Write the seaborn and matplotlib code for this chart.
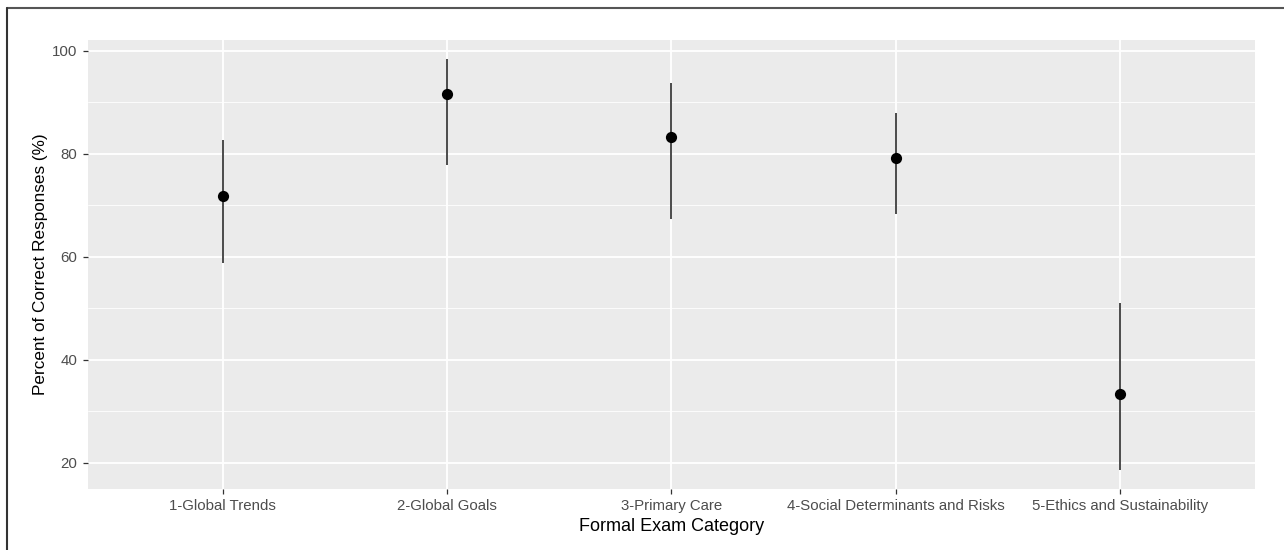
import matplotlib
matplotlib.use("Agg")
import matplotlib.pyplot as plt
import pandas as pd
import seaborn as sns
from matplotlib.lines import Line2D
from matplotlib.ticker import MultipleLocator

categories = ["1-Global Trends", "2-Global Goals", "3-Primary Care",
              "4-Social Determinants and Risks", "5-Ethics and Sustainability"]
pct_correct = [71.8, 91.7, 83.3, 79.2, 33.3]
ci_lower = [58.8, 77.8, 67.4, 68.3, 18.6]
ci_upper = [82.6, 98.4, 93.7, 87.9, 51.0]

df = pd.DataFrame({"category": categories, "pct": pct_correct,
                   "lo": ci_lower, "hi": ci_upper})

sns.set_theme(style="darkgrid", rc={
    "axes.facecolor": "#EBEBEB",
    "grid.color": "white",
})
plt.rcParams["font.family"] = ["Liberation Sans", "DejaVu Sans"]

fig = plt.figure(figsize=(12.84, 5.5), dpi=100)
ax = fig.add_axes([0.0685, 0.1109, 0.9089, 0.8164])

ax.vlines(range(len(df)), df["lo"], df["hi"], color="#1a1a1a", lw=1.1, zorder=3)
sns.scatterplot(data=df, x="category", y="pct", color="black", s=65,
                edgecolor="black", linewidth=0, zorder=4, ax=ax)

ax.set_xlim(-0.6, len(df) - 0.4)
ax.set_ylim(14.95, 102.1)
ax.yaxis.set_major_locator(MultipleLocator(20))
ax.yaxis.set_minor_locator(MultipleLocator(10))
ax.grid(which="major", color="white", lw=1.3)
ax.grid(which="minor", axis="y", color="white", lw=0.6)
ax.set_axisbelow(True)
for s in ax.spines.values():
    s.set_visible(False)

ax.tick_params(axis="both", which="major", length=3.5, width=0.9, color="#333333",
               labelsize=10.8, labelcolor="#4D4D4D", pad=4, left=True, bottom=True)
ax.tick_params(axis="y", which="minor", length=0)

ax.set_xlabel("Formal Exam Category", fontsize=13, color="black", labelpad=3)
ax.set_ylabel("Percent of Correct Responses (%)", fontsize=12.3, color="black", labelpad=3)

# outer frame (top and left edges of the screenshot)
fig.add_artist(Line2D([7 / 1284, 1], [1 - 8 / 550, 1 - 8 / 550], color="#555555", lw=1.5))
fig.add_artist(Line2D([7 / 1284, 7 / 1284], [0, 1 - 8 / 550], color="#333333", lw=1.5))

fig.savefig("out.png", dpi=100)
